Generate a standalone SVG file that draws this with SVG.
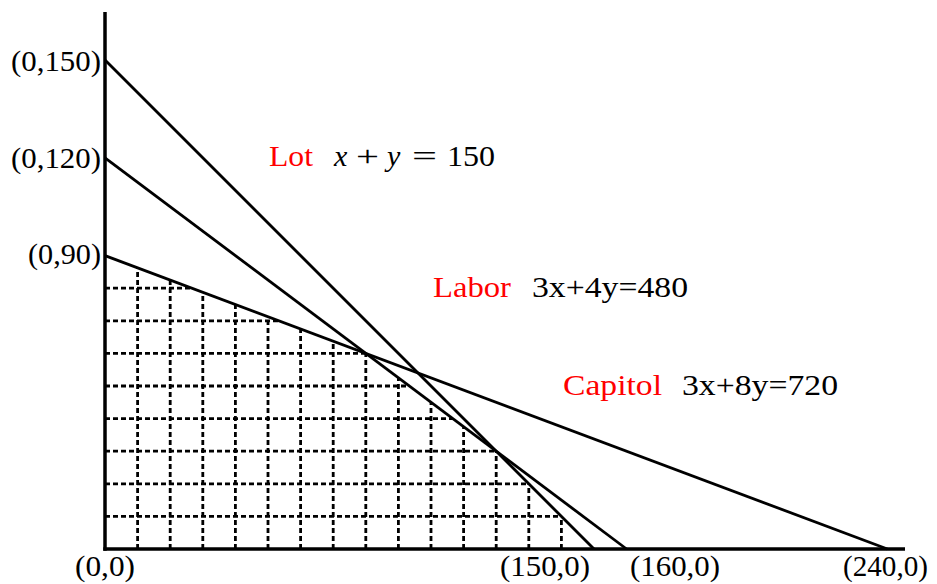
<svg xmlns="http://www.w3.org/2000/svg" width="937" height="584" viewBox="0 0 937 584">
<style>
.grid{stroke:#000;stroke-width:2.8;stroke-dasharray:5 3;fill:none}
.con{stroke:#000;stroke-width:2.8;fill:none}
.axis{stroke:#000;stroke-width:3.5;fill:none}
text{font-family:"Liberation Serif","Times New Roman",serif;font-size:30px;fill:#000}
.red{fill:#ff0000}
.it{font-style:italic}
</style>
<rect width="937" height="584" fill="#fff"/>
<g id="grid">
<path class="grid" d="M137.6,549V267.8M170.2,549V280.1M202.8,549V292.3M235.4,549V304.5M268,549V316.7M300.6,549V329M333.2,549V341.2M365.8,549V353.4M398.4,549V377.9M431,549V402.3M463.6,549V426.8M496.2,549V451.2M528.8,549V483.8M561.4,549V516.4"/>
<path class="grid" d="M105,516.4H561.4M105,483.8H528.8M105,451.2H496.2M105,418.6H452.7M105,386H409.3M105,353.4H365.8M105,320.8H278.9M105,288.2H191.9"/>
</g>
<g id="connectors">
<line id="lot-line" class="con" x1="105" y1="60" x2="594" y2="549"/>
<line id="labor-line" class="con" x1="105" y1="157.8" x2="626.6" y2="549"/>
<line id="capitol-line" class="con" x1="105" y1="255.6" x2="887.4" y2="549"/>
</g>
<g id="axes">
<line class="axis" x1="105" y1="12" x2="105" y2="550.7"/>
<line class="axis" x1="103.3" y1="549" x2="905" y2="549"/>
</g>
<g id="axis-labels">
<text x="101" y="71" text-anchor="end" textLength="90" lengthAdjust="spacingAndGlyphs">(0,150)</text>
<text x="101" y="168" text-anchor="end" textLength="90" lengthAdjust="spacingAndGlyphs">(0,120)</text>
<text x="101" y="264" text-anchor="end" textLength="73" lengthAdjust="spacingAndGlyphs">(0,90)</text>
<text x="75" y="576" textLength="60" lengthAdjust="spacingAndGlyphs">(0,0)</text>
<text x="500" y="576" textLength="90" lengthAdjust="spacingAndGlyphs">(150,0)</text>
<text x="630" y="576" textLength="90" lengthAdjust="spacingAndGlyphs">(160,0)</text>
<text x="843" y="576" textLength="85" lengthAdjust="spacingAndGlyphs">(240,0)</text>
</g>
<g id="lot-label">
<text class="red" x="269" y="166" textLength="44" lengthAdjust="spacingAndGlyphs">Lot</text>
<text y="166"><tspan class="it" x="334">x</tspan><tspan x="356" textLength="23" lengthAdjust="spacingAndGlyphs">+</tspan><tspan class="it" x="387">y</tspan><tspan x="412" textLength="25" lengthAdjust="spacingAndGlyphs">=</tspan><tspan x="447" textLength="48" lengthAdjust="spacingAndGlyphs">150</tspan></text>
</g>
<g id="labor-label">
<text class="red" x="433" y="297" textLength="78" lengthAdjust="spacingAndGlyphs">Labor</text>
<text x="532" y="297" textLength="156" lengthAdjust="spacingAndGlyphs">3x+4y=480</text>
</g>
<g id="capitol-label">
<text class="red" x="563" y="395" textLength="99" lengthAdjust="spacingAndGlyphs">Capitol</text>
<text x="682" y="395" textLength="156" lengthAdjust="spacingAndGlyphs">3x+8y=720</text>
</g>
</svg>
